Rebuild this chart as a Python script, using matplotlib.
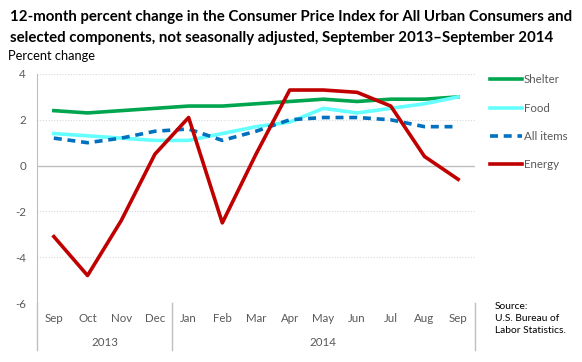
import matplotlib
matplotlib.use('Agg')
import matplotlib.pyplot as plt
from matplotlib.lines import Line2D

plt.rcParams['font.family'] = ['Lato', 'DejaVu Sans']

# Data
months = ['Sep', 'Oct', 'Nov', 'Dec', 'Jan', 'Feb', 'Mar', 'Apr', 'May', 'Jun', 'Jul', 'Aug', 'Sep']
years = ['2013', '2014']
shelter = [2.4, 2.3, 2.4, 2.5, 2.6, 2.6, 2.7, 2.8, 2.9, 2.8, 2.9, 2.9, 3.0]
food = [1.4, 1.3, 1.2, 1.1, 1.1, 1.4, 1.7, 1.9, 2.5, 2.3, 2.5, 2.7, 3.0]
all_items = [1.2, 1.0, 1.2, 1.5, 1.6, 1.1, 1.5, 2.0, 2.1, 2.1, 2.0, 1.7, 1.7]
energy = [-3.1, -4.8, -2.4, 0.5, 2.1, -2.5, 0.5, 3.3, 3.3, 3.2, 2.6, 0.4, -0.6]

W, H = 582, 362
fig = plt.figure(figsize=(W / 100, H / 100), dpi=100)
ax = fig.add_axes([37 / W, (H - 303) / H, (475 - 37) / W, (303 - 74) / H])

x = range(len(months))
ax.plot(x, shelter, color='#00a550', lw=2.6, label='Shelter', zorder=3)
ax.plot(x, food, color='#66ffff', lw=2.6, label='Food', zorder=3)
ax.plot(x, all_items, color='#0070c0', lw=2.6, ls=(0, (2.2, 1.6)), label='All items', zorder=4)
ax.plot(x, energy, color='#c00000', lw=2.6, label='Energy', zorder=5)

ax.set_xlim(-0.5, len(months) - 0.5)
ax.set_ylim(-6, 4)
ax.set_yticks([-6, -4, -2, 0, 2, 4])
ax.set_yticklabels(['-6', '-4', '-2', '0', '2', '4'])
ax.set_xticks([])
for y in [-6, -4, -2, 2, 4]:
    ax.axhline(y, color='#d9d9d9', lw=0.8, ls=(0, (1, 1.5)), zorder=1)
ax.axhline(0, color='#bfbfbf', lw=1, zorder=2)
for s in ['top', 'right', 'bottom']:
    ax.spines[s].set_visible(False)
ax.spines['left'].set_color('#bfbfbf')
ax.tick_params(axis='y', length=0, labelsize=8.3, labelcolor='#595959', pad=8)

# month and year labels under the axis
for i, m in enumerate(months):
    fig.text((54 + i * 33.67) / W, (H - 318) / H, m, ha='center', va='center',
             fontsize=8.3, color='#595959')
fig.text(105 / W, (H - 343) / H, years[0], ha='center', va='center', fontsize=8.3, color='#595959')
fig.text(323 / W, (H - 343) / H, years[1], ha='center', va='center', fontsize=8.3, color='#595959')
for px in [37, 172, 475]:
    fig.add_artist(Line2D([px / W, px / W], [(H - 303) / H, (H - 350) / H],
                          color='#bfbfbf', lw=1))

# legend
handles = [Line2D([], [], color='#00a550', lw=2.6),
           Line2D([], [], color='#66ffff', lw=2.6),
           Line2D([], [], color='#0070c0', lw=2.6, ls=(0, (2.2, 1.6))),
           Line2D([], [], color='#c00000', lw=2.6)]
fig.legend(handles, ['Shelter', 'Food', 'All items', 'Energy'], loc='upper left',
           bbox_to_anchor=(480 / W, (H - 64) / H), frameon=False, fontsize=8.3,
           labelcolor='#595959', handlelength=2.7, handletextpad=0.2, labelspacing=1.5)

fig.text(10 / W, (H - 17) / H, '12-month percent change in the Consumer Price Index for All Urban Consumers and',
         fontsize=10.8, fontweight='bold', va='center', ha='left')
fig.text(10 / W, (H - 38) / H, 'selected components, not seasonally adjusted, September 2013\u2013September 2014',
         fontsize=10.8, fontweight='bold', va='center', ha='left')
fig.text(8 / W, (H - 56) / H, 'Percent change', fontsize=9.3, va='center', ha='left')

fig.text(495 / W, (H - 302) / H, 'Source:\nU.S. Bureau of\nLabor Statistics.', fontsize=7.4,
         va='top', ha='left', linespacing=1.45)

fig.savefig('out.png', dpi=100)
